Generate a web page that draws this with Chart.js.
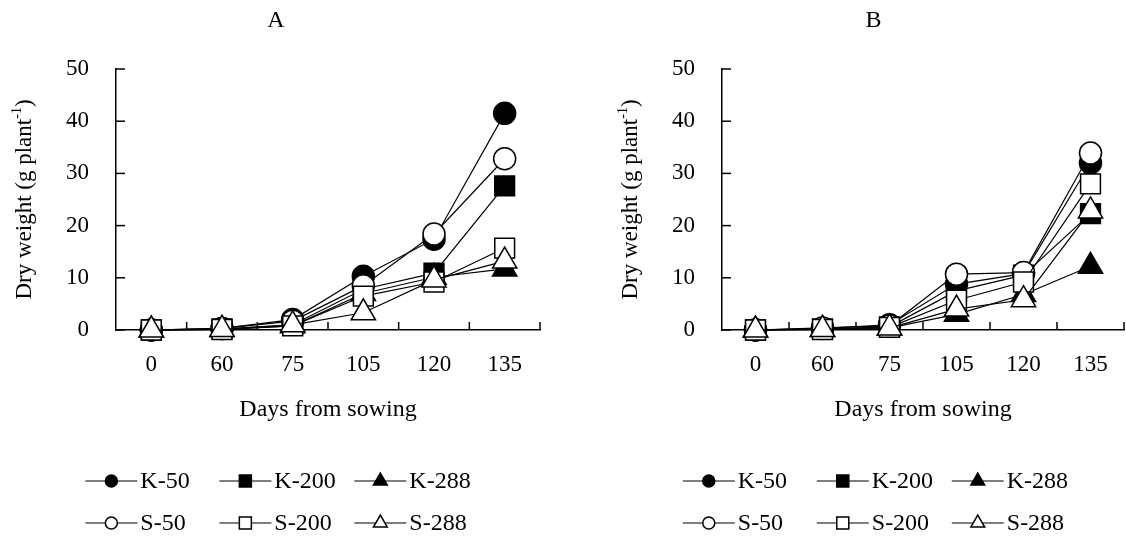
<!DOCTYPE html>
<html><head><meta charset="utf-8">
<script src="https://cdn.jsdelivr.net/npm/chart.js@4.4.1/dist/chart.umd.min.js"></script>
<style>
html,body{margin:0;padding:0;background:#fff;width:1126px;height:537px;overflow:hidden}
canvas{position:absolute;top:0}
#ca{left:0}
#cb{left:563px}
</style></head>
<body>
<canvas id="ca" width="563" height="537"></canvas>
<canvas id="cb" width="563" height="537"></canvas>
<script>
// ---- data ----
const days = ['0', '60', '75', '105', '120', '135'];
const seriesNames = ['K-50', 'K-200', 'K-288', 'S-50', 'S-200', 'S-288'];
const yTickStep = 10;
const yMax = 50;

// Panel A
const aK50  = [0, 0.3, 2.0, 10.3, 17.4, 41.5];
const aK200 = [0, 0.2, 1.0, 7.8, 10.9, 27.6];
const aK288 = [0, 0.1, 0.8, 7.0, 10.1, 11.7];
const aS50  = [0, 0.3, 1.7, 8.5, 18.4, 32.8];
const aS200 = [0, 0.1, 0.8, 6.5, 9.2, 15.7];
const aS288 = [0, 0.1, 1.0, 3.3, 9.6, 13.2];

// Panel B
const bK50  = [0, 0.3, 1.0, 8.8, 10.8, 32.0];
const bK200 = [0, 0.2, 0.6, 7.5, 10.5, 22.3];
const bK288 = [0, 0.1, 0.4, 3.0, 6.8, 12.2];
const bS50  = [0, 0.4, 0.8, 10.7, 11.0, 33.9];
const bS200 = [0, 0.1, 0.5, 5.7, 9.2, 28.0];
const bS288 = [0, 0.1, 0.4, 4.0, 5.8, 22.8];

// ---- styling ----
const FONT = "'Liberation Serif', 'Times New Roman', serif";
const marks = [
  {ps: 'circle',   fill: '#000', r: 11, lr: 6,   z: 5},
  {ps: 'rect',     fill: '#000', r: 14, lr: 8.5, z: 4},
  {ps: 'triangle', fill: '#000', r: 14, lr: 8,   z: 3},
  {ps: 'circle',   fill: '#fff', r: 11, lr: 6,   z: 2},
  {ps: 'rect',     fill: '#fff', r: 14, lr: 8.5, z: 1},
  {ps: 'triangle', fill: '#fff', r: 14, lr: 8,   z: 0}
];

function makeDatasets(vals) {
  return seriesNames.map((name, i) => ({
    label: name,
    data: vals[i],
    borderColor: '#000',
    borderWidth: 1.2,
    pointStyle: marks[i].ps,
    pointRadius: marks[i].r,
    pointBackgroundColor: marks[i].fill,
    pointBorderColor: '#000',
    pointBorderWidth: 1.5,
    order: marks[i].z,
    tension: 0,
    fill: false,
    clip: false
  }));
}

function drawMark(ctx, ps, r, x, y) {
  if (Chart.helpers && Chart.helpers.drawPoint) {
    Chart.helpers.drawPoint(ctx, {pointStyle: ps, radius: r, rotation: 0, borderWidth: 1.5}, x, y);
    return;
  }
  ctx.beginPath();
  if (ps === 'circle') ctx.arc(x, y, r, 0, Math.PI * 2);
  else if (ps === 'rect') { const s = r / Math.SQRT2; ctx.rect(x - s, y - s, 2 * s, 2 * s); }
  else { ctx.moveTo(x, y - r); ctx.lineTo(x + r * 0.866, y + r / 2); ctx.lineTo(x - r * 0.866, y + r / 2); ctx.closePath(); }
  ctx.fill(); ctx.stroke();
}

const decor = {
  id: 'decor',
  afterDraw(chart, args, opts) {
    const {ctx, chartArea: ca, scales: {x, y}} = chart;
    ctx.save();
    ctx.strokeStyle = '#000';
    ctx.fillStyle = '#000';
    ctx.lineWidth = 1.5;
    // inward y ticks
    y.ticks.forEach(t => {
      const py = y.getPixelForValue(t.value);
      ctx.beginPath(); ctx.moveTo(ca.left, py); ctx.lineTo(ca.left + 9, py); ctx.stroke();
    });
    // inward x ticks at category boundaries
    for (let i = 0; i < days.length; i++) {
      const px = x.getPixelForValue(i + 0.5);
      ctx.beginPath(); ctx.moveTo(px, ca.bottom); ctx.lineTo(px, ca.bottom - 8); ctx.stroke();
    }
    // panel title
    ctx.font = '24px ' + FONT;
    ctx.textAlign = 'center';
    ctx.textBaseline = 'middle';
    ctx.fillText(opts.title, ca.left + 0.377 * ca.width, 21);
    // x title
    ctx.fillText('Days from sowing', (ca.left + ca.right) / 2, 410);
    // y title with superscript
    ctx.save();
    ctx.translate(ca.left - 91, (ca.top + ca.bottom) / 2);
    ctx.rotate(-Math.PI / 2);
    const p1 = 'Dry weight (g plant', p2 = '-1', p3 = ')';
    ctx.font = '23px ' + FONT;
    const w1 = ctx.measureText(p1).width, w3 = ctx.measureText(p3).width;
    ctx.font = '14px ' + FONT;
    const w2 = ctx.measureText(p2).width;
    let sx = -(w1 + w2 + w3) / 2;
    ctx.textAlign = 'left';
    ctx.font = '23px ' + FONT;
    ctx.fillText(p1, sx, 0); sx += w1;
    ctx.font = '14px ' + FONT;
    ctx.fillText(p2, sx, -8); sx += w2;
    ctx.font = '23px ' + FONT;
    ctx.fillText(p3, sx, 0);
    ctx.restore();
    // legend
    const lc = ca.left + 0.39 * ca.width;
    const colOff = [-196, -62, 73];
    const rowY = [481, 523];
    ctx.font = '24px ' + FONT;
    ctx.textAlign = 'left';
    ctx.textBaseline = 'middle';
    seriesNames.forEach((name, i) => {
      const x0 = lc + colOff[i % 3];
      const yy = rowY[Math.floor(i / 3)];
      ctx.lineWidth = 1.2;
      ctx.strokeStyle = '#000';
      ctx.beginPath(); ctx.moveTo(x0, yy); ctx.lineTo(x0 + 52, yy); ctx.stroke();
      ctx.lineWidth = 1.5;
      ctx.fillStyle = marks[i].fill;
      drawMark(ctx, marks[i].ps, marks[i].lr, x0 + 26, yy);
      ctx.fillStyle = '#000';
      ctx.fillText(name, x0 + 55, yy + 1);
    });
    ctx.restore();
  }
};

function makeChart(id, vals, title, axisLeft, rightPad) {
  return new Chart(document.getElementById(id), {
    type: 'line',
    data: {labels: days, datasets: makeDatasets(vals)},
    options: {
      responsive: false,
      animation: false,
      devicePixelRatio: 1,
      events: [],
      layout: {autoPadding: false, padding: {top: 69, right: rightPad, left: 0, bottom: 0}},
      plugins: {legend: {display: false}, tooltip: {enabled: false}, title: {display: false}, decor: {title: title}},
      scales: {
        x: {
          type: 'category', offset: true,
          grid: {display: false, drawTicks: false},
          border: {display: true, color: '#000', width: 1.5},
          ticks: {color: '#000', font: {family: FONT, size: 23}, padding: 21, maxRotation: 0, autoSkip: false},
          afterFit(s) { s.height = 537 - 330; s.paddingLeft = 0; s.paddingRight = 0; }
        },
        y: {
          min: 0, max: yMax,
          grid: {display: false, drawTicks: false},
          border: {display: true, color: '#000', width: 1.5},
          ticks: {stepSize: yTickStep, color: '#000', font: {family: FONT, size: 23}, padding: 27},
          afterFit(s) { s.width = axisLeft; s.paddingTop = 0; s.paddingBottom = 0; }
        }
      }
    },
    plugins: [decor]
  });
}

makeChart('ca', [aK50, aK200, aK288, aS50, aS200, aS288], 'A', 116, 23);
makeChart('cb', [bK50, bK200, bK288, bS50, bS200, bS288], 'B', 159, 2);
</script>
</body></html>
